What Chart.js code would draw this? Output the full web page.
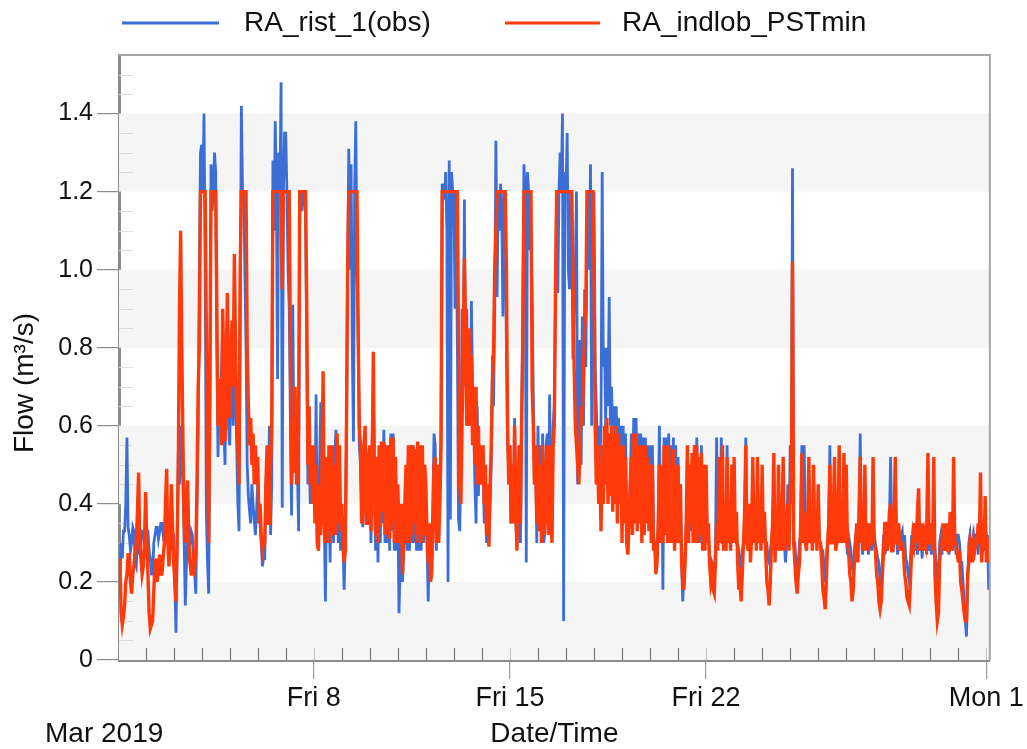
<!DOCTYPE html>
<html><head><meta charset="utf-8">
<script src="https://cdn.jsdelivr.net/npm/chart.js@4.4.1/dist/chart.umd.min.js"></script>
<style>html,body{margin:0;padding:0;background:#fff;}canvas{display:block;}</style>
</head><body>
<canvas id="c" width="1027" height="749"></canvas>
<script>
// ---- data: hourly samples starting Mar 1 2019 00:00 (one row per day) ----
const monthLabel = 'Mar 2019';
const stepHours = 1;
const seriesNames = ['RA_rist_1(obs)', 'RA_indlob_PSTmin'];
const obsFlow = [
  0.30,0.27,0.22,0.30,0.26,0.33,0.33,0.40,0.57,0.34,0.32,0.28,0.30,0.34,0.33,0.25,0.24,0.31,0.33,0.27,0.31,0.33,0.33,0.29,
  0.30,0.33,0.33,0.28,0.26,0.22,0.22,0.30,0.32,0.34,0.34,0.31,0.33,0.35,0.35,0.32,0.33,0.34,0.34,0.30,0.30,0.33,0.35,0.33,
  0.32,0.20,0.07,0.30,0.53,0.45,0.60,0.50,0.45,0.30,0.14,0.25,0.33,0.28,0.30,0.33,0.32,0.25,0.22,0.17,0.40,0.60,1.00,1.30,
  1.32,1.20,1.40,1.00,0.38,0.25,0.17,0.60,1.27,1.15,1.20,1.30,1.25,0.80,0.52,0.70,0.62,0.75,0.85,0.60,0.50,0.80,0.88,0.60,
  0.55,0.70,0.80,0.60,0.95,0.70,0.55,0.40,0.33,0.90,1.42,1.20,1.20,1.00,0.80,0.50,0.42,0.38,0.35,0.45,0.40,0.36,0.32,0.38,
  0.45,0.40,0.35,0.30,0.24,0.26,0.26,0.45,0.50,0.38,0.60,0.32,0.45,1.28,1.10,1.38,1.20,0.72,1.30,1.20,1.48,0.39,1.20,1.35,
  1.35,1.20,1.00,0.90,0.60,0.37,0.91,0.55,0.60,0.45,0.50,0.33,1.20,1.20,1.15,1.20,1.20,1.15,0.80,0.45,0.55,0.40,0.50,0.42,
  0.50,0.40,0.68,0.30,0.30,0.50,0.66,0.45,0.50,0.35,0.15,0.45,0.30,0.45,0.25,0.50,0.40,0.30,0.52,0.59,0.52,0.30,0.50,0.28,
  0.35,0.30,0.18,0.30,0.55,1.00,1.31,1.00,1.27,0.80,0.56,1.20,1.38,1.00,0.85,0.55,0.50,0.40,0.34,0.45,0.55,0.35,0.40,0.50,
  0.50,0.30,0.55,0.70,0.40,0.28,0.50,0.25,0.50,0.30,0.55,0.35,0.59,0.30,0.52,0.30,0.55,0.28,0.58,0.33,0.58,0.28,0.50,0.28,
  0.40,0.12,0.25,0.35,0.20,0.28,0.35,0.48,0.28,0.52,0.28,0.55,0.30,0.55,0.30,0.52,0.28,0.52,0.28,0.50,0.28,0.52,0.30,0.45,
  0.40,0.30,0.15,0.30,0.22,0.25,0.40,0.58,0.55,0.28,0.50,0.35,0.45,0.58,1.22,1.20,1.18,1.25,1.10,0.20,1.28,0.36,1.25,1.20,
  1.20,0.90,1.20,0.80,0.36,0.33,0.50,0.90,0.70,1.18,0.70,0.90,0.60,0.70,0.60,0.92,0.70,0.60,0.45,0.35,0.65,0.42,0.55,0.45,
  0.48,0.50,0.35,0.45,0.30,0.40,0.30,0.40,0.50,0.78,0.65,0.90,1.33,0.93,1.20,1.10,1.22,1.15,0.88,1.20,1.10,0.80,0.55,0.50,
  0.55,0.35,0.50,0.40,0.62,0.35,0.30,0.45,0.55,0.30,0.62,0.90,1.27,1.20,0.25,1.25,1.20,1.05,1.10,0.95,0.68,0.45,0.55,0.30,
  0.60,0.35,0.55,0.33,0.58,0.30,0.33,0.55,0.58,0.35,0.68,0.40,0.32,0.60,0.65,0.90,1.20,0.94,1.20,1.30,1.20,1.40,0.10,1.25,
  1.20,1.35,1.00,0.95,1.20,1.10,0.77,0.90,1.00,1.20,0.45,0.70,0.82,0.50,0.88,0.60,0.95,0.75,1.10,1.20,1.00,1.27,0.60,0.90,
  1.20,0.75,0.65,0.55,0.60,0.50,0.60,1.25,0.75,0.80,0.60,0.80,0.65,0.93,0.60,0.70,0.60,0.65,0.55,0.65,0.55,0.62,0.50,0.60,
  0.45,0.60,0.40,0.58,0.35,0.30,0.35,0.45,0.58,0.40,0.62,0.42,0.62,0.45,0.58,0.40,0.58,0.38,0.57,0.40,0.57,0.40,0.55,0.40,
  0.55,0.35,0.55,0.32,0.30,0.26,0.28,0.35,0.60,0.35,0.50,0.18,0.57,0.35,0.57,0.33,0.58,0.33,0.55,0.33,0.57,0.32,0.55,0.35,
  0.52,0.33,0.45,0.25,0.15,0.22,0.28,0.35,0.52,0.33,0.50,0.33,0.50,0.30,0.55,0.30,0.57,0.30,0.52,0.30,0.55,0.30,0.50,0.30,
  0.48,0.30,0.32,0.25,0.22,0.25,0.24,0.22,0.28,0.57,0.30,0.45,0.32,0.57,0.30,0.30,0.32,0.28,0.55,0.30,0.32,0.30,0.48,0.30,
  0.45,0.32,0.30,0.30,0.28,0.25,0.22,0.28,0.30,0.32,0.57,0.30,0.30,0.32,0.28,0.30,0.50,0.30,0.32,0.30,0.48,0.30,0.32,0.30,
  0.45,0.30,0.32,0.30,0.30,0.26,0.25,0.28,0.30,0.32,0.48,0.28,0.30,0.30,0.45,0.30,0.30,0.30,0.48,0.30,0.25,0.30,0.45,0.30,
  0.55,0.45,1.26,0.30,0.30,0.25,0.19,0.25,0.30,0.32,0.55,0.30,0.55,0.32,0.30,0.32,0.48,0.32,0.32,0.30,0.48,0.30,0.32,0.30,
  0.40,0.30,0.30,0.28,0.28,0.24,0.20,0.26,0.30,0.32,0.55,0.30,0.32,0.32,0.45,0.30,0.30,0.32,0.52,0.30,0.32,0.32,0.45,0.32,
  0.32,0.27,0.32,0.30,0.28,0.24,0.22,0.28,0.32,0.27,0.30,0.35,0.58,0.32,0.27,0.30,0.45,0.30,0.32,0.27,0.30,0.32,0.28,0.35,
  0.32,0.30,0.28,0.26,0.25,0.20,0.18,0.25,0.32,0.27,0.33,0.30,0.32,0.35,0.52,0.33,0.28,0.32,0.45,0.32,0.27,0.32,0.30,0.32,
  0.33,0.27,0.32,0.26,0.25,0.22,0.20,0.25,0.32,0.27,0.35,0.28,0.33,0.27,0.33,0.28,0.32,0.26,0.32,0.28,0.33,0.27,0.33,0.28,
  0.32,0.27,0.33,0.35,0.28,0.25,0.18,0.20,0.30,0.32,0.27,0.33,0.33,0.28,0.32,0.32,0.27,0.33,0.32,0.28,0.33,0.32,0.27,0.32,
  0.32,0.30,0.25,0.25,0.20,0.15,0.10,0.06,0.20,0.30,0.32,0.27,0.30,0.32,0.28,0.32,0.32,0.27,0.35,0.33,0.28,0.32,0.30,0.32,
  0.30,0.32,0.18,0.20
];
const simFlow = [
  0.20,0.24,0.26,0.12,0.09,0.11,0.14,0.20,0.22,0.27,0.27,0.20,0.17,0.22,0.24,0.28,0.30,0.38,0.48,0.30,0.26,0.22,0.24,0.30,
  0.43,0.30,0.22,0.12,0.08,0.09,0.10,0.18,0.24,0.26,0.20,0.24,0.27,0.22,0.22,0.26,0.30,0.40,0.49,0.30,0.24,0.30,0.45,0.35,
  0.25,0.20,0.15,0.30,0.50,0.90,1.10,0.80,0.55,0.35,0.30,0.42,0.46,0.30,0.25,0.22,0.22,0.26,0.24,0.28,0.45,0.70,0.80,1.20,
  1.20,1.20,1.20,1.20,0.85,0.55,0.30,0.70,1.20,1.20,1.20,1.20,1.20,0.90,0.60,0.65,0.72,0.55,0.90,0.75,0.56,0.70,0.94,0.75,
  0.62,0.75,0.87,0.70,1.04,0.80,0.62,0.55,0.45,1.00,1.20,1.20,1.20,1.20,1.20,0.80,0.65,0.55,0.62,0.50,0.58,0.45,0.55,0.45,
  0.52,0.35,0.40,0.32,0.28,0.30,0.30,0.45,0.55,0.35,0.35,0.50,0.60,1.20,1.20,1.20,1.20,1.20,1.20,1.20,1.20,0.95,1.20,1.20,
  1.20,1.20,1.20,1.20,0.80,0.45,0.55,0.48,0.70,0.50,0.45,0.60,1.20,1.20,1.20,1.20,1.20,1.20,0.90,0.50,0.65,0.45,0.55,0.40,
  0.55,0.35,0.50,0.30,0.28,0.45,0.32,0.50,0.74,0.35,0.30,0.52,0.33,0.55,0.30,0.50,0.55,0.32,0.50,0.32,0.58,0.35,0.55,0.33,
  0.40,0.30,0.25,0.28,0.60,1.00,1.20,1.20,1.20,1.20,1.20,1.20,1.20,1.20,0.85,0.60,0.55,0.35,0.38,0.55,0.60,0.35,0.35,0.52,
  0.55,0.33,0.50,0.79,0.45,0.32,0.52,0.30,0.55,0.34,0.56,0.38,0.56,0.32,0.55,0.33,0.55,0.31,0.57,0.35,0.57,0.30,0.52,0.30,
  0.45,0.32,0.30,0.40,0.22,0.30,0.40,0.50,0.30,0.55,0.30,0.55,0.32,0.55,0.35,0.54,0.30,0.56,0.32,0.55,0.30,0.55,0.32,0.50,
  0.45,0.32,0.25,0.35,0.20,0.22,0.35,0.50,0.52,0.30,0.50,0.30,0.40,0.55,1.20,1.20,1.20,1.20,1.20,1.20,1.20,1.20,1.20,1.20,
  1.20,1.20,1.20,1.20,0.80,0.45,0.40,0.60,0.80,1.03,0.85,0.60,0.70,0.85,0.60,0.78,0.55,0.70,0.50,0.70,0.45,0.60,0.45,0.55,
  0.45,0.55,0.40,0.50,0.32,0.45,0.29,0.45,0.55,0.70,0.80,1.00,1.10,1.20,1.20,1.20,1.20,1.20,1.20,1.20,1.20,1.00,0.60,0.45,
  0.55,0.35,0.50,0.35,0.60,0.40,0.28,0.45,0.55,0.35,0.60,0.80,1.20,1.20,1.20,1.20,1.20,1.20,1.20,0.70,0.60,0.45,0.50,0.35,
  0.55,0.33,0.50,0.30,0.55,0.32,0.35,0.50,0.55,0.32,0.55,0.40,0.30,0.55,0.60,0.95,1.20,1.20,1.20,1.20,1.20,1.20,1.20,1.20,
  1.20,1.20,1.20,1.20,1.20,1.20,1.00,0.75,0.60,0.55,0.50,0.45,0.55,0.65,0.60,0.75,0.85,0.90,1.20,1.20,1.20,1.20,1.20,1.20,
  1.00,0.60,0.45,0.55,0.40,0.50,0.33,0.55,0.40,0.60,0.45,0.62,0.40,0.58,0.42,0.60,0.38,0.58,0.40,0.60,0.35,0.58,0.40,0.55,
  0.30,0.55,0.35,0.52,0.30,0.27,0.35,0.45,0.52,0.32,0.58,0.35,0.58,0.33,0.55,0.35,0.55,0.30,0.55,0.32,0.55,0.35,0.52,0.33,
  0.50,0.30,0.50,0.28,0.30,0.22,0.25,0.35,0.50,0.30,0.50,0.30,0.55,0.32,0.55,0.30,0.55,0.30,0.50,0.30,0.54,0.28,0.50,0.30,
  0.50,0.30,0.45,0.25,0.20,0.18,0.25,0.35,0.55,0.30,0.50,0.35,0.53,0.30,0.55,0.30,0.55,0.30,0.52,0.32,0.53,0.28,0.50,0.28,
  0.50,0.30,0.35,0.25,0.20,0.22,0.18,0.17,0.25,0.35,0.28,0.52,0.30,0.40,0.55,0.28,0.35,0.28,0.52,0.30,0.40,0.28,0.50,0.30,
  0.52,0.30,0.38,0.25,0.18,0.20,0.15,0.22,0.30,0.38,0.55,0.30,0.28,0.40,0.25,0.32,0.52,0.30,0.40,0.28,0.52,0.30,0.38,0.28,
  0.50,0.30,0.38,0.28,0.20,0.18,0.14,0.20,0.30,0.35,0.53,0.25,0.38,0.28,0.50,0.30,0.28,0.35,0.52,0.28,0.30,0.35,0.40,0.28,
  0.45,0.40,1.02,0.30,0.25,0.20,0.17,0.22,0.25,0.35,0.53,0.30,0.38,0.30,0.28,0.35,0.52,0.30,0.38,0.28,0.50,0.30,0.35,0.28,
  0.45,0.30,0.30,0.25,0.18,0.16,0.13,0.20,0.30,0.35,0.50,0.30,0.30,0.38,0.52,0.28,0.30,0.35,0.55,0.30,0.38,0.30,0.53,0.30,
  0.50,0.30,0.28,0.22,0.20,0.15,0.18,0.25,0.30,0.35,0.25,0.38,0.52,0.30,0.35,0.28,0.50,0.28,0.35,0.28,0.30,0.35,0.30,0.52,
  0.30,0.28,0.22,0.20,0.15,0.13,0.15,0.22,0.28,0.35,0.35,0.28,0.30,0.38,0.40,0.28,0.28,0.35,0.52,0.30,0.30,0.35,0.28,0.30,
  0.30,0.28,0.22,0.20,0.16,0.15,0.14,0.20,0.28,0.32,0.30,0.35,0.30,0.38,0.44,0.28,0.30,0.35,0.28,0.32,0.30,0.35,0.53,0.30,
  0.30,0.35,0.28,0.52,0.22,0.15,0.10,0.12,0.25,0.30,0.30,0.35,0.28,0.30,0.35,0.28,0.28,0.38,0.30,0.28,0.52,0.30,0.30,0.28,
  0.25,0.28,0.20,0.18,0.15,0.12,0.10,0.10,0.22,0.25,0.30,0.28,0.25,0.30,0.28,0.30,0.30,0.35,0.30,0.48,0.25,0.30,0.28,0.42,
  0.25,0.30,0.28,0.25
];
// axis ticks (hours since Mar 1 00:00)
const xTickHours = [168, 336, 504, 744];
const xTickLabels = ['Fri 8', 'Fri 15', 'Fri 22', 'Mon 1'];
const yTicks = [0, 0.2, 0.4, 0.6, 0.8, 1.0, 1.2, 1.4];
const xTitle = 'Date/Time';
const yTitle = 'Flow (m³/s)';

// ---- styling ----
const FONT = "'Liberation Sans', Arial, sans-serif";
Chart.defaults.font.family = FONT;
Chart.defaults.color = '#111';
const BLUE = '#3b6fd6', RED = '#ff3a0a';
const AXIS = '#8c8c8c';

const toPts = arr => arr.map((v, i) => ({x: i * stepHours, y: v}));

const decor = {
  id: 'decor',
  beforeDatasetsDraw(chart) {
    const {ctx, chartArea: a, scales: {y}} = chart;
    ctx.save();
    ctx.fillStyle = '#f5f5f5';
    for (let i = 0; i + 1 < yTicks.length; i += 2) {
      const t = y.getPixelForValue(yTicks[i + 1]), b = y.getPixelForValue(yTicks[i]);
      ctx.fillRect(a.left, t, a.right - a.left, b - t);
    }
    ctx.strokeStyle = '#dcdcdc'; ctx.lineWidth = 1;
    for (let k = 1; k * 0.05 < y.max; k++) {
      if (k % 4 === 0) continue;
      const py = Math.round(y.getPixelForValue(k * 0.05)) + 0.5;
      ctx.beginPath(); ctx.moveTo(a.left, py); ctx.lineTo(a.left + 14, py); ctx.stroke();
    }
    ctx.restore();
  },
  afterDatasetsDraw(chart) {
    const {ctx, chartArea: a, scales: {x}} = chart;
    ctx.save();
    for (let h = 24; h < x.max; h += 24) {
      const px = Math.round(x.getPixelForValue(h)) + 0.5;
      const major = xTickHours.includes(h);
      ctx.strokeStyle = major ? '#c8c8c8' : '#777';
      ctx.lineWidth = 1.2;
      ctx.beginPath(); ctx.moveTo(px, a.bottom); ctx.lineTo(px, a.bottom - 12); ctx.stroke();
    }
    ctx.strokeStyle = '#a6a6a6'; ctx.lineWidth = 2;
    ctx.beginPath();
    ctx.moveTo(a.left, a.top); ctx.lineTo(a.right, a.top); ctx.lineTo(a.right, a.bottom);
    ctx.stroke();
    ctx.restore();
  },
  afterDraw(chart) {
    const {ctx} = chart;
    ctx.save();
    // legend
    const items = [{x0: 122, x1: 219, tx: 244}, {x0: 505, x1: 600, tx: 622}];
    const ly = 23;
    ctx.font = '28px ' + FONT;
    ctx.textBaseline = 'middle';
    ctx.fillStyle = '#111';
    chart.data.datasets.forEach((ds, i) => {
      const it = items[i];
      ctx.strokeStyle = ds.borderColor; ctx.lineWidth = 3;
      ctx.beginPath(); ctx.moveTo(it.x0, ly); ctx.lineTo(it.x1, ly); ctx.stroke();
      ctx.fillText(ds.label, it.tx, ly);
    });
    // month label
    ctx.font = '28px ' + FONT;
    ctx.fillText(monthLabel, 45, 734);
    // y title
    ctx.translate(25, 383);
    ctx.rotate(-Math.PI / 2);
    ctx.textAlign = 'center';
    ctx.font = '28px ' + FONT;
    ctx.fillText(yTitle, 0, 0);
    ctx.restore();
  }
};

new Chart(document.getElementById('c'), {
  type: 'line',
  data: {
    datasets: [
      {label: seriesNames[0], data: toPts(obsFlow), borderColor: BLUE, backgroundColor: BLUE, borderWidth: 2.8, order: 2},
      {label: seriesNames[1], data: toPts(simFlow), borderColor: RED, backgroundColor: RED, borderWidth: 3.4, order: 1}
    ]
  },
  options: {
    responsive: false,
    animation: false,
    layout: {padding: {top: 55, right: 36, left: 0, bottom: 0}},
    elements: {point: {radius: 0}, line: {tension: 0}},
    plugins: {legend: {display: false}, tooltip: {enabled: false}},
    scales: {
      x: {
        type: 'linear', min: 1.2, max: 747,
        afterFit(s) { s.height = 89; },
        afterBuildTicks(s) { s.ticks = xTickHours.map(v => ({value: v})); },
        ticks: {autoSkip: false, maxRotation: 0, padding: 3, font: {size: 27},
                callback: v => xTickLabels[xTickHours.indexOf(v)]},
        grid: {drawOnChartArea: false, tickLength: 19, color: '#9a9a9a', lineWidth: 1.2},
        border: {color: AXIS, width: 3},
        title: {display: true, text: xTitle, font: {size: 28}, padding: {top: 0, bottom: -2}}
      },
      y: {
        min: 0, max: 1.55,
        afterFit(s) { s.width = 119; },
        afterBuildTicks(s) { s.ticks = yTicks.map(v => ({value: v})); },
        ticks: {padding: 4, font: {size: 25}, callback: v => v === 0 ? '0' : v.toFixed(1)},
        grid: {drawOnChartArea: false, tickLength: 22, color: AXIS, lineWidth: 1.2},
        border: {color: AXIS, width: 3},
        title: {display: false}
      }
    }
  },
  plugins: [decor]
});
</script>
</body></html>
